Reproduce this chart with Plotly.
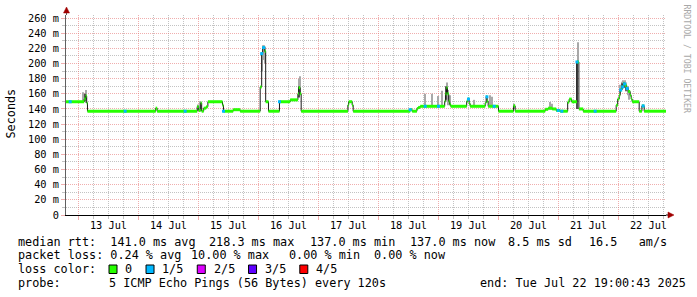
import plotly.graph_objects as go
import pandas as pd

# ---------------- data ----------------
START = "2025-07-12 19:00:43"
END = "2025-07-22 19:00:43"

median_times = [
    "2025-07-12 19:00", "2025-07-13 02:17", "2025-07-13 02:53", "2025-07-13 03:17", "2025-07-13 03:36",
    "2025-07-14 06:53", "2025-07-14 07:29", "2025-07-14 23:29", "2025-07-15 00:05", "2025-07-15 00:53",
    "2025-07-15 01:17", "2025-07-15 02:05", "2025-07-15 03:05", "2025-07-15 03:46", "2025-07-15 09:36",
    "2025-07-15 10:00", "2025-07-15 13:53", "2025-07-15 16:41", "2025-07-16 00:41", "2025-07-16 01:17",
    "2025-07-16 01:41", "2025-07-16 02:29", "2025-07-16 02:53", "2025-07-16 04:00", "2025-07-16 08:24",
    "2025-07-16 12:41", "2025-07-16 15:46", "2025-07-16 16:05", "2025-07-16 16:41", "2025-07-16 17:05",
    "2025-07-17 11:46", "2025-07-17 12:05", "2025-07-17 13:29", "2025-07-17 13:53", "2025-07-18 12:41",
    "2025-07-18 13:29", "2025-07-18 15:22", "2025-07-18 15:53", "2025-07-18 16:41", "2025-07-19 02:29",
    "2025-07-19 02:48", "2025-07-19 03:12", "2025-07-19 03:36", "2025-07-19 04:05", "2025-07-19 04:29",
    "2025-07-19 04:53", "2025-07-19 11:17", "2025-07-19 11:41", "2025-07-19 12:17", "2025-07-19 12:41",
    "2025-07-19 18:41", "2025-07-19 19:05", "2025-07-19 19:29", "2025-07-19 19:53", "2025-07-20 00:00",
    "2025-07-20 06:00", "2025-07-20 06:41", "2025-07-20 18:41", "2025-07-20 19:53", "2025-07-20 21:29",
    "2025-07-20 23:05", "2025-07-21 00:41", "2025-07-21 03:41", "2025-07-21 04:17", "2025-07-21 05:17",
    "2025-07-21 07:22", "2025-07-21 08:10", "2025-07-21 09:53", "2025-07-21 23:05", "2025-07-21 23:41",
    "2025-07-22 00:17", "2025-07-22 00:41", "2025-07-22 01:17", "2025-07-22 01:53", "2025-07-22 02:41",
    "2025-07-22 03:17", "2025-07-22 03:53", "2025-07-22 04:41", "2025-07-22 05:05", "2025-07-22 05:29",
    "2025-07-22 08:17", "2025-07-22 09:22", "2025-07-22 10:17", "2025-07-22 19:00",
]
median_values = [
    149.5, 153, 157, 148, 137,
    141, 137, 143, 138, 148,
    137, 141, 143, 149.5, 145,
    137, 139, 137, 169, 213,
    221, 216, 149.5, 137, 149.5,
    152, 160, 168, 160, 137,
    145, 149.5, 145, 137, 139,
    137, 140.5, 142, 143.5, 150,
    160, 168, 160, 150, 146,
    143.5, 150, 153, 147, 143.5,
    148, 156, 150, 143.5, 137,
    144, 137, 139.5, 141, 140,
    138, 137, 149, 153, 149.5,
    202, 140, 137, 145, 153,
    158, 165, 169, 173, 171,
    167, 163, 158, 153, 149.5,
    137, 144, 137, 137,
]

# light smoke (spread of the pings)
smoke_times = [
    "2025-07-13 01:46", "2025-07-13 03:05", "2025-07-16 01:17", "2025-07-16 01:41", "2025-07-16 02:05",
    "2025-07-16 02:29", "2025-07-16 16:17", "2025-07-16 16:41", "2025-07-18 18:41", "2025-07-18 21:29",
    "2025-07-19 00:00", "2025-07-19 01:29", "2025-07-19 03:17", "2025-07-19 03:53", "2025-07-19 04:29",
    "2025-07-19 14:24", "2025-07-19 20:41", "2025-07-19 21:29", "2025-07-20 06:17", "2025-07-20 20:41",
    "2025-07-20 21:22", "2025-07-21 07:41", "2025-07-22 00:41", "2025-07-22 01:17", "2025-07-22 01:53",
    "2025-07-22 02:29", "2025-07-22 03:05", "2025-07-22 03:41", "2025-07-22 04:17", "2025-07-15 00:29",
    "2025-07-14 23:41",
]
smoke_lo = [
    150, 148, 190, 205, 205,
    200, 160, 160, 144, 144,
    144, 144, 150, 145, 145,
    144, 144, 144, 140, 139,
    139, 200, 160, 165, 168,
    168, 163, 158, 152, 140,
    138,
]
smoke_hi = [
    162, 165, 215, 224, 224,
    222, 180, 183, 160, 160,
    157, 164, 175, 165, 158,
    152, 158, 156, 147, 149,
    147, 228, 172, 176, 178,
    178, 175, 170, 165, 150,
    146,
]

# darker core smoke
core_times = ["2025-07-13 02:41", "2025-07-16 16:05", "2025-07-19 03:12", "2025-07-21 07:30",
              "2025-07-22 01:29", "2025-07-22 02:17", "2025-07-22 03:05"]
core_lo = [150, 155, 152, 140, 166, 168, 164]
core_hi = [160, 170, 170, 202, 174, 175, 170]

# packet loss events (n of 5 pings lost)
loss_times = [
    "2025-07-12 20:41", "2025-07-13 18:41", "2025-07-14 18:41", "2025-07-15 10:00", "2025-07-16 01:17",
    "2025-07-16 02:05", "2025-07-16 08:24", "2025-07-18 12:41", "2025-07-18 18:41", "2025-07-19 00:00",
    "2025-07-19 12:00", "2025-07-19 19:22", "2025-07-19 22:17", "2025-07-20 23:53", "2025-07-21 01:22",
    "2025-07-21 07:24", "2025-07-21 14:41", "2025-07-22 00:53", "2025-07-22 01:41", "2025-07-22 02:29",
    "2025-07-22 03:29", "2025-07-22 09:53",
]
loss_levels = [1] * len(loss_times)

y_ticks = list(range(0, 261, 20))
y_tick_labels = ["0"] + ["%d m" % v for v in y_ticks[1:]]
y_minor = list(range(10, 261, 20))

day_label_times = ["2025-07-%02d 12:00" % d for d in range(13, 23)]
day_labels = ["%d Jul" % d for d in range(13, 23)]
midnights = ["2025-07-%02d 00:00" % d for d in range(13, 23)]
six_hours = [f"2025-07-{d:02d} {h:02d}:00" for d in range(12, 23) for h in (6, 12, 18)]

legend_rows = [
    [("median rtt:  141.0 ms avg", 16), ("218.3 ms max", 207.3), ("137.0 ms min", 308),
     ("137.0 ms now", 407.7), ("8.5 ms sd", 505.7), ("16.5   am/s", 586.7)],
    [("packet loss: 0.24 % avg", 16), ("10.00 % max", 189), ("0.00 % min", 286.7),
     ("0.00 % now", 372.3)],
    [("loss color:", 16)],
    [("probe:", 16), ("5 ICMP Echo Pings (56 Bytes) every 120s", 107.3),
     ("end: Tue Jul 22 19:00:43 2025", 478.3)],
]
loss_color_labels = ["0", "1/5", "2/5", "3/5", "4/5"]
loss_colors = ["#26ff00", "#00b8ff", "#dd00ff", "#5e00ff", "#ff0000"]

# ---------------- layout constants ----------------
W, H = 697, 297
L, R, T, B = 66, 31, 15, 82
PW, PH = W - L - R, H - T - B
MONO = "DejaVu Sans Mono"


def px(xp):
    return (xp - L) / PW


def py(yp):
    return (H - B - yp) / PH


mt = pd.to_datetime(median_times)
end_ts = pd.Timestamp(END)
start_ts = pd.Timestamp(START)

fig = go.Figure()

# smoke bars
st = pd.to_datetime(smoke_times)
fig.add_trace(go.Bar(x=st, base=smoke_lo, y=[h - l for h, l in zip(smoke_hi, smoke_lo)],
                     width=1.7e6, marker=dict(color="#a8a8a8", line=dict(width=0)),
                     hoverinfo="skip", showlegend=False))
ct = pd.to_datetime(core_times)
fig.add_trace(go.Bar(x=ct, base=core_lo, y=[h - l for h, l in zip(core_hi, core_lo)],
                     width=1.5e6, marker=dict(color="#505050", line=dict(width=0)),
                     hoverinfo="skip", showlegend=False))

# dark step line (shows on transitions)
fig.add_trace(go.Scatter(x=list(mt) + [end_ts], y=median_values + [median_values[-1]],
                         mode="lines", line=dict(color="#1a1a1a", width=1, shape="hv"),
                         hoverinfo="skip", showlegend=False))

# green horizontal segments
gx, gy = [], []
for i, v in enumerate(median_values):
    t0 = mt[i]
    t1 = mt[i + 1] if i + 1 < len(mt) else end_ts
    gx += [t0, t1, None]
    gy += [v, v, None]
fig.add_trace(go.Scatter(x=gx, y=gy, mode="lines", line=dict(color=loss_colors[0], width=3),
                         hoverinfo="skip", showlegend=False))

# loss markers
lt = pd.to_datetime(loss_times)
ly = []
for t in lt:
    idx = max(i for i in range(len(mt)) if mt[i] <= t)
    ly.append(median_values[idx])
fig.add_trace(go.Scatter(x=lt, y=ly, mode="markers",
                         marker=dict(symbol="square", size=3, color=[loss_colors[l] for l in loss_levels],
                                     line=dict(width=0)),
                         hoverinfo="skip", showlegend=False))

# invisible trace for label axis
fig.add_trace(go.Scatter(x=pd.to_datetime(day_label_times), y=[0] * len(day_labels), xaxis="x2",
                         mode="markers", marker=dict(opacity=0), hoverinfo="skip", showlegend=False))

RED_GRID = "rgba(230,120,120,0.6)"
GREY_GRID = "rgba(170,170,170,0.7)"

fig.update_layout(
    width=W, height=H, margin=dict(l=L, r=R, t=T, b=B),
    paper_bgcolor="white", plot_bgcolor="white",
    barmode="overlay", showlegend=False,
    xaxis=dict(
        type="date", range=[START, END], tickmode="array", tickvals=midnights,
        showticklabels=False, showgrid=True, gridcolor=RED_GRID, griddash="1px,1px", gridwidth=1,
        ticks="outside", ticklen=4, tickcolor=RED_GRID,
        minor=dict(tickmode="array", tickvals=six_hours, showgrid=True, gridcolor=GREY_GRID,
                   griddash="1px,1px", ticks="outside", ticklen=3, tickcolor=GREY_GRID),
        showline=True, linecolor="#000000", linewidth=1, zeroline=False, fixedrange=True,
    ),
    xaxis2=dict(
        type="date", range=[START, END], overlaying="x", anchor="y", side="bottom",
        tickmode="array", tickvals=day_label_times, ticktext=day_labels,
        showgrid=False, ticks="", showline=False, zeroline=False,
        tickfont=dict(family=MONO, size=10.3, color="#000000"), ticklabelstandoff=3,
    ),
    yaxis=dict(
        range=[0, 264], tickmode="array", tickvals=y_ticks, ticktext=y_tick_labels,
        tickfont=dict(family=MONO, size=10.3, color="#000000"),
        showgrid=True, gridcolor=RED_GRID, griddash="1px,1px", gridwidth=1,
        ticks="outside", ticklen=4, tickcolor=RED_GRID,
        minor=dict(tickmode="array", tickvals=y_minor, showgrid=True, gridcolor=GREY_GRID,
                   griddash="1px,1px", ticks="outside", ticklen=3, tickcolor=GREY_GRID),
        showline=True, linecolor="#606060", linewidth=1, zeroline=False, fixedrange=True,
    ),
)

ann = []
ann.append(dict(text="Seconds", x=px(10), y=py(113.5), xref="paper", yref="paper", showarrow=False,
                xanchor="center", yanchor="middle",
                textangle=-90, font=dict(family=MONO, size=11.8, color="#000000")))
ann.append(dict(text="RRDTOOL / TOBI OETIKER", x=px(686.5), y=py(59), xref="paper", yref="paper",
                showarrow=False, textangle=90, xanchor="center", yanchor="middle",
                font=dict(family=MONO, size=8.2, color="#a8a8a8")))
row_y = [241.7, 255.2, 269.0, 282.7]
for row, yy in zip(legend_rows, row_y):
    for text, xx in row:
        ann.append(dict(text=text, x=px(xx), y=py(yy), xref="paper", yref="paper", showarrow=False,
                        xanchor="left", yanchor="middle", font=dict(family=MONO, size=11.8, color="#000000")))

shapes = []
sx = 109.0
for lab, col in zip(loss_color_labels, loss_colors):
    shapes.append(dict(type="rect", xref="paper", yref="paper", x0=px(sx), x1=px(sx + 8),
                       y0=py(273.5), y1=py(265.0), fillcolor=col, line=dict(color="#000000", width=1)))
    lx = sx + 14.3
    ann.append(dict(text=lab, x=px(lx), y=py(row_y[2]), xref="paper", yref="paper", showarrow=False,
                    xanchor="left", yanchor="middle", font=dict(family=MONO, size=11.8, color="#000000")))
    sx = lx + len(lab) * 7.12 + 15.6

# axis arrows and axis extensions (decoration)
ARROW = "#a00000"
shapes.append(dict(type="line", xref="paper", yref="paper", x0=px(66.5), x1=px(66.5), y0=1.0, y1=py(12),
                   line=dict(color="#606060", width=1)))
shapes.append(dict(type="line", xref="paper", yref="paper", x0=1.0, x1=px(670), y0=0, y1=0,
                   line=dict(color="#000000", width=1)))
shapes.append(dict(type="path", xref="paper", yref="paper",
                   path=f"M {px(63.5)},{py(13)} L {px(69.5)},{py(13)} L {px(66.5)},{py(7)} Z",
                   fillcolor=ARROW, line=dict(color=ARROW, width=0.5)))
shapes.append(dict(type="path", xref="paper", yref="paper",
                   path=f"M {px(668)},{py(212)} L {px(668)},{py(218)} L {px(674)},{py(215)} Z",
                   fillcolor=ARROW, line=dict(color=ARROW, width=0.5)))

fig.update_layout(annotations=ann, shapes=shapes)
fig.write_html("out.html")
